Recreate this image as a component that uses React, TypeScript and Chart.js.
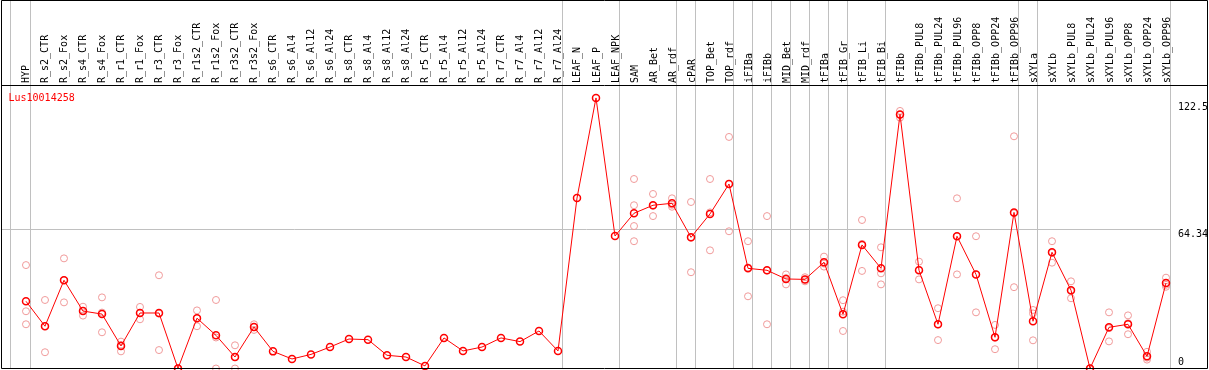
import React, { useEffect, useRef } from 'react';
import { Chart, registerables } from 'chart.js';

Chart.register(...registerables);

const categories = [
  'HYP', 'R_s2_CTR', 'R_s2_Fox', 'R_s4_CTR', 'R_s4_Fox', 'R_r1_CTR', 'R_r1_Fox', 'R_r3_CTR', 'R_r3_Fox',
  'R_r1s2_CTR', 'R_r1s2_Fox', 'R_r3s2_CTR', 'R_r3s2_Fox', 'R_s6_CTR', 'R_s6_Al4', 'R_s6_Al12', 'R_s6_Al24',
  'R_s8_CTR', 'R_s8_Al4', 'R_s8_Al12', 'R_s8_Al24', 'R_r5_CTR', 'R_r5_Al4', 'R_r5_Al12', 'R_r5_Al24',
  'R_r7_CTR', 'R_r7_Al4', 'R_r7_Al12', 'R_r7_Al24', 'LEAF_N', 'LEAF_P', 'LEAF_NPK', 'SAM', 'AR_Bet', 'AR_rdf',
  'cPAR', 'TOP_Bet', 'TOP_rdf', 'iFIBa', 'iFIBb', 'MID_Bet', 'MID_rdf', 'tFIBa', 'tFIB_Gr', 'tFIB_Li', 'tFIB_Bi',
  'tFIBb', 'tFIBb_PUL8', 'tFIBb_PUL24', 'tFIBb_PUL96', 'tFIBb_OPP8', 'tFIBb_OPP24', 'tFIBb_OPP96',
  'sXYLa', 'sXYLb', 'sXYLb_PUL8', 'sXYLb_PUL24', 'sXYLb_PUL96', 'sXYLb_OPP8', 'sXYLb_OPP24', 'sXYLb_OPP96',
];

const meanValues = [
  31.0, 19.5, 40.7, 26.5, 25.1, 10.4, 25.6, 25.6, 0,
  23.2, 15.3, 5.3, 19.1, 7.9, 4.4, 6.5, 9.9,
  13.6, 13.3, 6.1, 5.3, 1.2, 14.1, 8.1, 9.9,
  14.1, 12.4, 17.3, 8.1, 78.6, 124.8, 61.1, 71.6, 75.3, 76.2,
  60.5, 71.3, 85.1, 46.2, 45.3, 41.3, 41.1, 49.0, 25.0, 57.0, 46.2,
  117.2, 45.3, 20.4, 61.0, 43.4, 14.4, 72.0,
  21.8, 53.6, 36.1, 0, 19.0, 20.4, 5.6, 39.4,
];

const N = null;
const repA = [
  47.7, 31.6, 50.8, 28.5, 32.8, 12.4, 28.4, 43.0, 0,
  26.8, 31.6, 10.7, 20.4, N, N, N, N,
  N, N, N, N, N, N, N, N,
  N, N, N, N, N, N, N, 87.4, 80.5, 78.5,
  76.8, 87.4, 106.8, 58.7, 70.3, 43.4, 42.1, 51.6, 31.5, 68.5, 55.9,
  118.8, 49.3, 27.8, 78.5, 61.0, 20.1, 107.1,
  27.0, 58.7, 40.2, 0, 25.9, 24.5, 7.7, 41.9,
];
const repB = [
  26.4, 7.5, 30.5, 24.4, 16.7, 7.9, 22.7, 8.5, 0,
  19.5, 0, 0, 17.8, N, N, N, N,
  N, N, N, N, N, N, N, N,
  N, N, N, N, N, N, N, 75.3, 70.3, 74.6,
  44.4, 54.5, 63.3, 33.3, 20.4, 38.8, 40.2, 47.0, 17.3, 45.0, 38.8,
  115.7, 41.1, 13.1, 43.4, 25.9, 8.9, 37.5,
  13.0, 48.8, 32.4, 0, 12.5, 15.8, 4.1, 37.7,
];
const repC = [
  20.4, 19.5, 40.8, 26.6, 25.8, 10.9, 25.7, 25.3, 0,
  23.3, 14.3, 5.2, 19.1, N, N, N, N,
  N, N, N, N, N, N, N, N,
  N, N, N, N, N, N, N, 65.7, 75.1, 75.5,
  60.3, 72.0, 85.2, 46.6, 45.2, 41.7, 41.0, 48.4, 26.2, 57.5, 43.9,
  117.0, 45.5, 20.3, 61.0, 43.4, 14.2, 71.6,
  25.4, 53.3, 35.7, 0, 18.6, 20.9, 5.0, 38.6,
];
const repD = [
  N, N, N, N, N, N, N, N, N,
  N, N, N, N, N, N, N, N,
  N, N, N, N, N, N, N, N,
  N, N, N, N, N, N, N, 58.7, N, N,
  N, N, N, N, N, N, N, N, N, N, N,
  N, N, N, N, N, N, N,
  N, N, N, N, N, N, N, N,
];

// group separators: placed just after these category indices
const separatorsAfter = [-1.05, 0, 28, 31, 34, 35, 37, 38, 39, 40, 41, 42, 43, 45, 52, 53, 60];
const yTickValues = [122.5, 64.34, 0];
const yTickLabels = ['122.5', '64.34', '0'];
const gridValue = 64.34;
const geneName = 'Lus10014258';

const FONT = "10px 'DejaVu Sans Mono', monospace";

const decorPlugin = {
  id: 'decor',
  beforeDatasetsDraw(chart: any) {
    const ctx = chart.ctx;
    const xs = chart.scales.x;
    const ys = chart.scales.y;
    const a = chart.chartArea;
    ctx.save();
    ctx.strokeStyle = '#c0c0c0';
    ctx.lineWidth = 1;
    ctx.beginPath();
    separatorsAfter.forEach((i) => {
      const x = Math.floor(xs.getPixelForValue(i + 0.24)) + 0.5;
      ctx.moveTo(x, 0);
      ctx.lineTo(x, a.bottom);
    });
    const gy = Math.floor(ys.getPixelForValue(gridValue)) + 0.5;
    ctx.moveTo(a.left, gy);
    ctx.lineTo(a.right, gy);
    ctx.stroke();
    ctx.restore();
  },
  afterDatasetsDraw(chart: any) {
    const ctx = chart.ctx;
    const xs = chart.scales.x;
    const ys = chart.scales.y;
    const a = chart.chartArea;
    const W = chart.width;
    ctx.save();
    ctx.strokeStyle = '#000000';
    ctx.lineWidth = 1;
    ctx.beginPath();
    ctx.moveTo(1.5, 0.5);
    ctx.lineTo(W - 1.5, 0.5);
    ctx.lineTo(W - 1.5, a.bottom);
    ctx.lineTo(1.5, a.bottom);
    ctx.closePath();
    ctx.moveTo(1.5, a.top - 0.5);
    ctx.lineTo(W - 1.5, a.top - 0.5);
    ctx.stroke();

    ctx.font = FONT;
    ctx.fillStyle = '#000000';
    ctx.textAlign = 'left';
    ctx.textBaseline = 'alphabetic';
    categories.forEach((c, i) => {
      const x = xs.getPixelForValue(i) + 3.5;
      ctx.save();
      ctx.translate(Math.round(x), a.top - 3);
      ctx.rotate(-Math.PI / 2);
      ctx.fillText(c, 0, 0);
      ctx.restore();
    });

    yTickValues.forEach((v, k) => {
      const y = Math.min(ys.getPixelForValue(v) + 7.5, a.bottom - 3.5);
      ctx.fillText(yTickLabels[k], a.right + 7, y);
    });

    ctx.fillStyle = '#ff0000';
    ctx.fillText(geneName, 8.5, a.top + 15);
    ctx.restore();
  },
};

function toPoints(arr: (number | null)[]) {
  const out: { x: number; y: number }[] = [];
  arr.forEach((v, i) => {
    if (v !== null && v !== undefined) out.push({ x: i, y: v });
  });
  return out;
}

export default function App() {
  const ref = useRef<HTMLCanvasElement | null>(null);

  useEffect(() => {
    document.body.style.margin = '0';
    const canvas = ref.current;
    if (!canvas) return;
    const repStyle = {
      showLine: false,
      pointRadius: 3.5,
      pointBorderWidth: 1,
      pointBorderColor: '#f09a9a',
      pointBackgroundColor: 'rgba(0,0,0,0)',
      borderColor: '#f09a9a',
      clip: false as any,
    };
    const chart = new Chart(canvas, {
      type: 'line',
      data: {
        datasets: [
          {
            label: geneName,
            data: toPoints(meanValues),
            borderColor: '#ff0000',
            borderWidth: 1,
            pointRadius: 3.5,
            pointBorderWidth: 1.5,
            pointBorderColor: '#ff0000',
            pointBackgroundColor: 'rgba(0,0,0,0)',
            tension: 0,
            clip: false as any,
          },
          { label: 'repA', data: toPoints(repA), ...repStyle },
          { label: 'repB', data: toPoints(repB), ...repStyle },
          { label: 'repC', data: toPoints(repC), ...repStyle },
          { label: 'repD', data: toPoints(repD), ...repStyle },
        ] as any,
      },
      options: {
        animation: false,
        responsive: false,
        maintainAspectRatio: false,
        events: [],
        layout: { autoPadding: false, padding: { left: 2, right: 38, top: 86, bottom: 1.5 } },
        scales: {
          x: { type: 'linear', min: -1.263, max: 60.263, display: false },
          y: { type: 'linear', min: 0, max: 130.3, display: false },
        },
        plugins: { legend: { display: false }, tooltip: { enabled: false } },
      },
      plugins: [decorPlugin],
    });
    return () => chart.destroy();
  }, []);

  return <canvas ref={ref} width={1209} height={370} style={{ display: 'block' }} />;
}
